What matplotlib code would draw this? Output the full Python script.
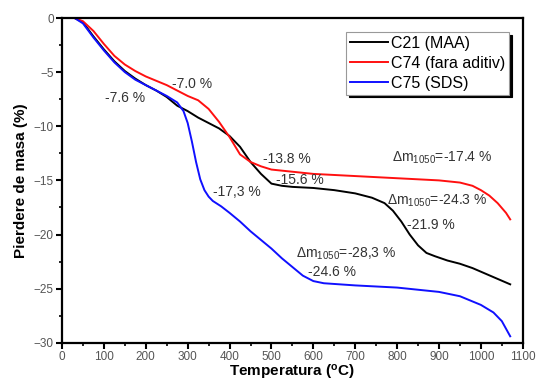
import matplotlib
matplotlib.use("Agg")
import matplotlib.pyplot as plt
from matplotlib.ticker import MultipleLocator

plt.rcParams["font.family"] = ["Liberation Sans", "DejaVu Sans"]
plt.rcParams["mathtext.fontset"] = "custom"
plt.rcParams["mathtext.rm"] = "Liberation Sans"
plt.rcParams["mathtext.it"] = "Liberation Sans:italic"
plt.rcParams["mathtext.bf"] = "Liberation Sans:bold"

# C21 (MAA)
t_c21 = [30, 50, 75, 100, 125, 150, 175, 200, 225, 250, 275, 300, 325, 350, 375,
         400, 425, 450, 475, 500, 525, 550, 600, 650, 700, 740, 770, 790, 810,
         830, 850, 870, 890, 920, 950, 980, 1010, 1040, 1070]
m_c21 = [0, -0.4, -1.7, -2.9, -4.0, -4.9, -5.6, -6.2, -6.7, -7.3, -8.1, -8.6, -9.2,
         -9.7, -10.2, -10.9, -11.9, -13.3, -14.4, -15.3, -15.5, -15.6, -15.7, -15.9,
         -16.2, -16.6, -17.1, -17.8, -18.8, -20.0, -21.0, -21.7, -22.0, -22.4, -22.7,
         -23.1, -23.6, -24.1, -24.6]

# C74 (fara aditiv)
t_c74 = [30, 50, 75, 100, 125, 150, 175, 200, 225, 250, 275, 300, 325, 350, 375,
         400, 425, 450, 475, 500, 550, 600, 700, 800, 900, 950, 980, 1000, 1020,
         1040, 1060, 1070]
m_c74 = [0, -0.3, -1.2, -2.4, -3.5, -4.3, -4.9, -5.4, -5.8, -6.2, -6.7, -7.2, -7.6,
         -8.4, -9.6, -11.0, -12.6, -13.3, -13.7, -14.0, -14.2, -14.4, -14.6, -14.8,
         -15.0, -15.2, -15.5, -15.9, -16.4, -17.1, -18.0, -18.6]

# C75 (SDS)
t_c75 = [30, 50, 75, 100, 125, 150, 175, 200, 225, 250, 275, 290, 300, 310, 320,
         330, 340, 350, 360, 380, 400, 425, 450, 475, 500, 525, 550, 575, 600, 625,
         700, 800, 900, 950, 1000, 1030, 1050, 1070]
m_c75 = [0, -0.5, -1.8, -3.0, -4.1, -5.0, -5.7, -6.2, -6.7, -7.2, -7.8, -8.6, -9.7,
         -11.4, -13.3, -14.9, -15.9, -16.5, -16.9, -17.4, -18.0, -18.8, -19.7, -20.5,
         -21.3, -22.2, -23.0, -23.8, -24.3, -24.5, -24.7, -24.9, -25.3, -25.7, -26.5,
         -27.2, -28.0, -29.4]

series_names = ["C21 (MAA)", "C74 (fara aditiv)", "C75 (SDS)"]

# annotations: (text, T, value)
notes = [
    ("-7.0 %", 310, -6.1),
    ("-7.6 %", 150, -7.4),
    ("-13.8 %", 536, -13.0),
    ("-15.6 %", 567, -15.0),
    ("-17,3 %", 417, -16.1),
    ("$\\Delta$m$_{1050}$=-17.4 %", 907, -12.9),
    ("$\\Delta$m$_{1050}$=-24.3 %", 895, -16.9),
    ("-21.9 %", 881, -19.1),
    ("$\\Delta$m$_{1050}$=-28,3 %", 679, -21.8),
    ("-24.6 %", 645, -23.5),
]

fig = plt.figure(figsize=(5.37, 3.83), dpi=100)
ax = fig.add_axes([0.1155, 0.105, 0.858, 0.848])

ax.plot(t_c21, m_c21, color="black", lw=1.4, label=series_names[0])
ax.plot(t_c74, m_c74, color="#ff1010", lw=1.4, label=series_names[1])
ax.plot(t_c75, m_c75, color="#1010ff", lw=1.4, label=series_names[2])

for txt, tx, ty in notes:
    ax.text(tx, ty, txt, ha="center", va="center", fontsize=10, color="#333333")

ax.set_xlim(0, 1100)
ax.set_ylim(-30, 0)
ax.xaxis.set_major_locator(MultipleLocator(100))
ax.xaxis.set_minor_locator(MultipleLocator(50))
ax.yaxis.set_major_locator(MultipleLocator(5))
ax.yaxis.set_minor_locator(MultipleLocator(2.5))
ax.tick_params(which="major", direction="out", length=4, width=1.5, pad=2,
               labelsize=8.5, labelcolor="#555555")
ax.tick_params(which="minor", direction="out", length=2.5, width=1.2)
for sp in ax.spines.values():
    sp.set_linewidth(1.6)

ax.set_xlabel("Temperatura ($^{\\mathbf{o}}$C)", fontsize=11, fontweight="bold", labelpad=0)
ax.set_ylabel("Pierdere de masa (%)", fontsize=11, fontweight="bold", labelpad=4)

leg = ax.legend(loc="upper right", bbox_to_anchor=(0.970, 0.957), borderaxespad=0,
                fontsize=11.5, frameon=True, fancybox=False, handlelength=2.4,
                handletextpad=0.15, borderpad=0.25, labelspacing=0.3,
                shadow={"color": "black", "alpha": 1})
leg.get_frame().set_edgecolor("#999999")
leg.get_frame().set_linewidth(0.8)

fig.savefig("out.png", dpi=100)
